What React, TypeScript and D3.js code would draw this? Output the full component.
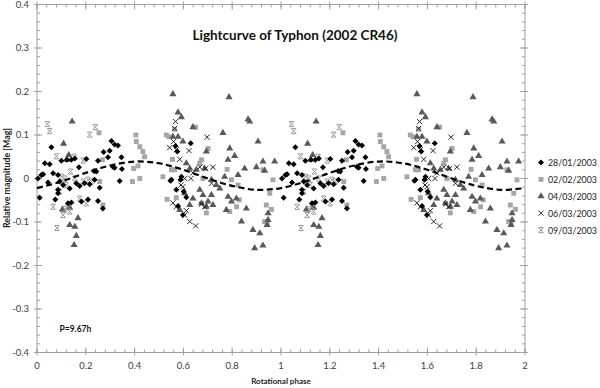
import React, { useEffect, useRef } from "react";
import * as d3 from "d3";

const W = 600;
const H = 388;

// [phase, relative magnitude] for each night, plotted at phase and phase + 1
const night2801 = [
  [0.004, 0.0], [0.018, 0.008], [0.025, 0.01], [0.045, -0.009], [0.032, 0.035], [0.052, 0.033],
  [0.059, 0.072], [0.066, 0.012], [0.086, 0.008], [0.093, -0.007], [0.107, -0.015], [0.086, -0.034],
  [0.075, -0.048], [0.011, -0.044], [0.1, 0.041], [0.123, 0.043], [0.141, 0.043], [0.155, 0.046],
  [0.172, 0.026], [0.127, -0.057], [0.141, -0.055], [0.161, -0.011], [0.175, -0.017], [0.195, -0.011],
  [0.216, -0.013], [0.236, -0.003], [0.257, -0.021], [0.182, -0.053], [0.209, -0.048], [0.25, -0.052],
  [0.27, -0.069], [0.339, -0.006], [0.202, 0.045], [0.234, 0.017], [0.273, 0.061], [0.298, 0.064],
  [0.305, 0.086], [0.318, 0.078], [0.332, 0.076], [0.346, 0.049], [0.291, 0.049], [0.25, 0.041],
  [0.318, 0.025], [0.348, 0.022], [0.311, 0.027], [0.243, 0.016], [0.134, -0.023], [0.086, -0.026],
  [0.547, -0.005], [0.568, 0.075], [0.575, 0.062], [0.63, 0.081], [0.601, -0.03], [0.612, -0.043],
  [0.598, -0.084], [0.571, -0.026], [0.592, 0.004], [0.588, -0.003], [0.551, -0.003], [0.578, -0.063],
];

const night0202 = [
  [0.254, 0.105], [0.268, 0.043], [0.257, -0.007], [0.27, -0.061], [0.405, 0.1], [0.407, 0.085],
  [0.421, 0.073], [0.434, 0.062], [0.441, 0.05], [0.414, 0.029], [0.396, 0.023], [0.391, -0.007],
  [0.421, 0.0], [0.516, 0.004], [0.53, 0.1], [0.541, 0.096], [0.564, 0.113], [0.65, 0.118],
  [0.555, 0.044], [0.551, 0.02], [0.564, 0.02], [0.533, -0.048], [0.571, -0.044], [0.701, 0.069],
  [0.674, 0.043], [0.667, 0.035], [0.779, 0.021], [0.926, 0.02], [0.68, 0.0], [0.797, -0.003],
  [0.824, -0.015], [0.967, -0.003], [0.954, -0.034], [0.79, -0.076], [0.694, -0.079], [0.94, -0.061],
  [0.961, -0.071], [0.933, -0.099], [0.943, -0.103], [0.818, -0.065], [0.829, -0.049],
];

const night0403 = [
  [0.144, 0.131], [0.109, 0.08], [0.13, 0.054], [0.122, 0.043], [0.104, -0.071], [0.134, -0.067],
  [0.168, -0.091], [0.134, -0.107], [0.155, -0.111], [0.161, -0.132], [0.152, -0.153],
  [0.557, 0.194], [0.787, 0.187], [0.578, 0.152], [0.592, 0.141], [0.639, 0.118], [0.865, 0.136],
  [0.872, 0.131], [0.762, 0.105], [0.906, 0.085], [0.598, 0.085], [0.557, 0.096], [0.578, 0.096],
  [0.694, 0.062], [0.79, 0.069], [0.81, 0.052], [0.783, 0.043], [0.851, 0.023], [0.899, 0.026],
  [0.926, 0.039], [0.974, 0.039], [0.933, 0.018], [0.824, 0.008], [0.769, 0.004], [0.612, 0.035],
  [0.626, 0.023], [0.653, 0.02], [0.687, 0.023], [0.715, -0.003], [0.735, -0.015], [0.749, -0.023],
  [0.667, -0.026], [0.68, -0.038], [0.715, -0.038], [0.701, -0.053], [0.674, -0.057], [0.694, -0.065],
  [0.721, -0.061], [0.626, -0.061], [0.639, -0.046], [0.605, -0.034], [0.783, -0.042], [0.797, -0.053],
  [0.817, -0.046], [0.776, -0.072], [0.858, -0.069], [0.947, -0.08], [0.838, -0.099], [0.885, -0.118],
  [0.913, -0.126], [0.892, -0.16], [0.926, -0.154], [0.947, -0.095], [0.943, -0.107], [0.585, -0.072],
];

const night0603 = [
  [0.568, 0.131], [0.564, 0.115], [0.56, 0.085], [0.544, 0.071], [0.571, 0.066], [0.585, 0.044],
  [0.623, 0.064], [0.697, 0.095], [0.667, 0.026], [0.691, 0.023], [0.721, 0.026], [0.639, 0.013],
  [0.605, 0.0], [0.598, -0.019], [0.715, -0.011], [0.557, -0.056], [0.571, -0.065], [0.612, -0.074],
  [0.605, -0.084], [0.626, -0.099], [0.65, -0.109], [0.674, -0.059], [0.687, -0.065], [0.631, 0.0],
  [0.59, -0.015],
];

const night0903 = [
  [0.043, 0.125], [0.052, 0.109], [0.239, 0.118], [0.216, 0.101], [0.08, 0.051], [0.152, 0.05],
  [0.189, 0.041], [0.137, 0.016], [0.093, -0.03], [0.066, -0.065], [0.114, -0.071], [0.127, -0.065],
  [0.107, -0.084], [0.134, -0.076], [0.082, -0.114], [0.175, -0.046], [0.202, -0.057], [0.209, -0.003],
  [0.223, -0.007], [0.189, -0.007], [0.114, 0.0], [0.155, 0.0], [0.1, 0.004], [0.12, -0.015],
];

// fitted lightcurve (dashed), read every 0.1 in phase
const fitPhase = [0, 0.1, 0.2, 0.3, 0.4, 0.5, 0.6, 0.7, 0.8, 0.9, 1.0, 1.1, 1.2, 1.3, 1.4, 1.5, 1.6, 1.7, 1.8, 1.9, 2.0];
const fitMag = [-0.022, -0.007, 0.013, 0.03, 0.039, 0.035, 0.02, 0.0, -0.017, -0.026, -0.022, -0.007, 0.013, 0.03, 0.039, 0.035, 0.02, 0.0, -0.017, -0.026, -0.022];

const xTicks = [0, 0.2, 0.4, 0.6, 0.8, 1, 1.2, 1.4, 1.6, 1.8, 2];
const yTicks = [-0.4, -0.3, -0.2, -0.1, 0, 0.1, 0.2, 0.3, 0.4];
const legendLabels = ["28/01/2003", "02/02/2003", "04/03/2003", "06/03/2003", "09/03/2003"];

const font = "Lato, 'Open Sans', sans-serif";

const fmt = (d) => (Number.isInteger(d) ? String(d) : d3.format(".1f")(d).replace("\u2212", "-"));

const App = () => {
  const svgRef = useRef(null);

  useEffect(() => {
    const svg = d3.select(svgRef.current);
    svg.selectAll("*").remove();

    const left = 37, right = 525, top = 4.5, bottom = 352.5;
    const x = d3.scaleLinear().domain([0, 2]).range([left, right]);
    const y = d3.scaleLinear().domain([-0.4, 0.4]).range([bottom, top]);

    svg.append("rect").attr("width", W).attr("height", H).attr("fill", "#fff");

    // frame with ticks on all four sides
    const axisColor = "#a0a0a0";
    svg.append("rect")
      .attr("x", left).attr("y", top)
      .attr("width", right - left).attr("height", bottom - top)
      .attr("fill", "none").attr("stroke", axisColor).attr("stroke-width", 1);

    const xMinor = d3.range(0, 2.0001, 0.04);
    const yMinor = d3.range(-0.4, 0.40001, 0.02);
    const g = svg.append("g").attr("stroke", axisColor).attr("stroke-width", 1);
    xMinor.forEach((v) => {
      g.append("line").attr("x1", x(v)).attr("x2", x(v)).attr("y1", bottom).attr("y2", bottom - 3);
      g.append("line").attr("x1", x(v)).attr("x2", x(v)).attr("y1", top).attr("y2", top + 3);
    });
    xTicks.forEach((v) => {
      g.append("line").attr("x1", x(v)).attr("x2", x(v)).attr("y1", bottom + 3).attr("y2", bottom - 5);
      g.append("line").attr("x1", x(v)).attr("x2", x(v)).attr("y1", top - 3).attr("y2", top + 5);
    });
    yMinor.forEach((v) => {
      g.append("line").attr("x1", left).attr("x2", left + 3).attr("y1", y(v)).attr("y2", y(v));
      g.append("line").attr("x1", right).attr("x2", right - 3).attr("y1", y(v)).attr("y2", y(v));
    });
    yTicks.forEach((v) => {
      g.append("line").attr("x1", left - 3).attr("x2", left + 5).attr("y1", y(v)).attr("y2", y(v));
      g.append("line").attr("x1", right + 3).attr("x2", right - 5).attr("y1", y(v)).attr("y2", y(v));
    });

    // tick labels
    svg.append("g").selectAll("text").data(yTicks).enter().append("text")
      .attr("x", 29).attr("y", (d) => y(d) + 3.3)
      .attr("text-anchor", "end")
      .style("font-family", font).style("font-size", "9.5px").style("fill", "#404040")
      .text(fmt);

    svg.append("g").selectAll("text").data(xTicks).enter().append("text")
      .attr("x", (d) => x(d)).attr("y", 369)
      .attr("text-anchor", "middle")
      .style("font-family", font).style("font-size", "9.5px").style("fill", "#404040")
      .text(fmt);

    // markers
    const plot = svg.append("g");
    const both = (arr) => arr.flatMap(([p, m]) => [[p, m], [p + 1, m]]);

    const diamond = "M0,-3L3,0L0,3L-3,0Z";
    const square = d3.symbol().type(d3.symbolSquare).size(24)();
    const triangle = d3.symbol().type(d3.symbolTriangle).size(22)();
    const cross = "M-2.6,-2.6L2.6,2.6M2.6,-2.6L-2.6,2.6";
    const star = "M-2.6,-2.6L2.6,2.6M2.6,-2.6L-2.6,2.6M-2,-2.6L2,-2.6M-2,2.6L2,2.6";

    const series = [
      { data: night0202, path: square, fill: "#a6a6a6", stroke: "none" },
      { data: night0403, path: triangle, fill: "#595959", stroke: "none" },
      { data: night0903, path: star, fill: "none", stroke: "#8c8c8c" },
      { data: night0603, path: cross, fill: "none", stroke: "#111" },
      { data: night2801, path: diamond, fill: "#000", stroke: "none" },
    ];

    series.forEach((s) => {
      plot.append("g").selectAll("path").data(both(s.data)).enter().append("path")
        .attr("d", s.path)
        .attr("transform", (d) => `translate(${x(d[0])},${y(d[1])})`)
        .attr("fill", s.fill).attr("stroke", s.stroke).attr("stroke-width", 0.9);
    });

    // dashed fitted curve
    const line = d3.line()
      .x((d) => x(d[0])).y((d) => y(d[1]))
      .curve(d3.curveCatmullRom);
    svg.append("path")
      .datum(fitPhase.map((p, i) => [p, fitMag[i]]))
      .attr("d", line)
      .attr("fill", "none").attr("stroke", "#000")
      .attr("stroke-width", 2.2).attr("stroke-dasharray", "6,3.5");

    // legend
    const legendPaths = [diamond, square, triangle, cross, star];
    const legendFill = ["#000", "#a6a6a6", "#595959", "none", "none"];
    const legendStroke = ["none", "none", "none", "#111", "#8c8c8c"];
    const lg = svg.append("g");
    legendLabels.forEach((lab, i) => {
      const ly = 162.5 + i * 16.9;
      lg.append("path").attr("d", legendPaths[i])
        .attr("transform", `translate(541,${ly})`)
        .attr("fill", legendFill[i]).attr("stroke", legendStroke[i]).attr("stroke-width", 0.9);
      lg.append("text").attr("x", 548).attr("y", ly + 3.5)
        .attr("textLength", 49).attr("lengthAdjust", "spacingAndGlyphs")
        .style("font-family", font).style("font-size", "9.6px").style("fill", "#222")
        .text(lab);
    });

    // titles
    svg.append("text").attr("x", 295).attr("y", 39.5).attr("text-anchor", "middle")
      .style("font-family", font).style("font-size", "13.5px").style("font-weight", "bold").style("fill", "#111")
      .text("Lightcurve of Typhon (2002 CR46)");

    svg.append("text").attr("x", 281).attr("y", 384).attr("text-anchor", "middle")
      .style("font-family", font).style("font-size", "8px").style("font-weight", "bold").style("fill", "#222")
      .text("Rotational phase");

    svg.append("text").attr("transform", "translate(10,178) rotate(-90)").attr("text-anchor", "middle")
      .style("font-family", font).style("font-size", "8.8px").style("font-weight", "bold").style("fill", "#222")
      .text("Relative magnitude [Mag]");

    svg.append("text").attr("x", 59.5).attr("y", 332)
      .style("font-family", font).style("font-size", "8.5px").style("font-weight", "bold").style("fill", "#111")
      .text("P=9.67h");
  }, []);

  return (
    <svg ref={svgRef} width={W} height={H}
      style={{ position: "absolute", left: 0, top: 0, display: "block" }} />
  );
};

export default App;
